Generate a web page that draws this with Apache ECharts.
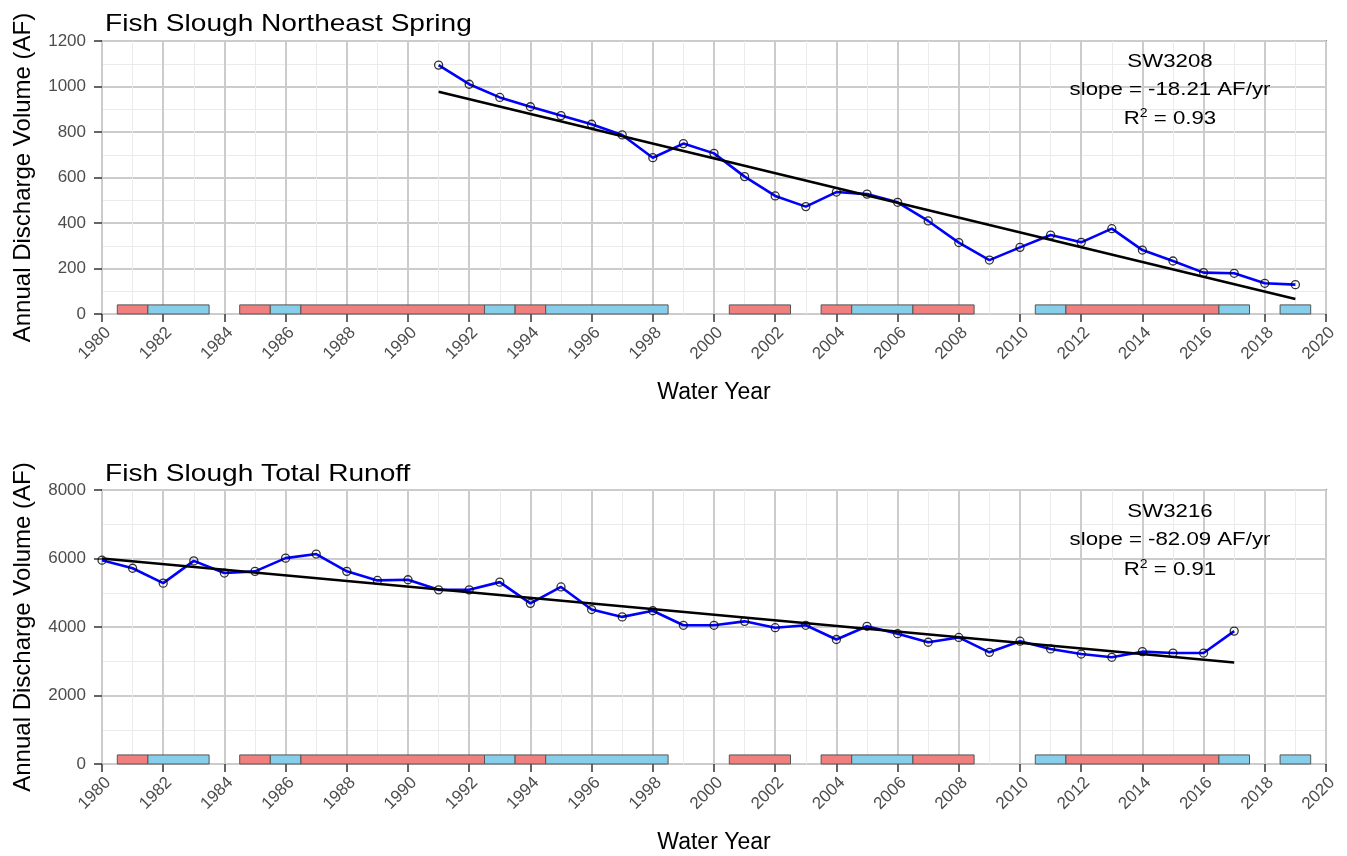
<!DOCTYPE html>
<html>
<head>
<meta charset="utf-8">
<script src="https://cdn.jsdelivr.net/npm/echarts@6/dist/echarts.min.js"></script>
<style>
html,body{margin:0;padding:0;background:#fff;}
#chart{width:1347px;height:856px;}
</style>
</head>
<body>
<div id="chart"></div>
<script>
// ---- data ----
const springYears = [1991,1992,1993,1994,1995,1996,1997,1998,1999,2000,2001,2002,2003,2004,2005,2006,2007,2008,2009,2010,2011,2012,2013,2014,2015,2016,2017,2018,2019];
const springVolume = [1094,1010,952,911,872,834,787,687,749,706,604,519,472,536,527,491,409,314,237,293,347,315,375,281,233,182,179,135,129];
const springTrendYears = [1991, 2019];
const springTrendValues = [977, 66];

const runoffYears = [1980,1981,1982,1983,1984,1985,1986,1987,1988,1989,1990,1991,1992,1993,1994,1995,1996,1997,1998,1999,2000,2001,2002,2003,2004,2005,2006,2007,2008,2009,2010,2011,2012,2013,2014,2015,2016,2017];
const runoffVolume = [5950,5715,5280,5930,5575,5625,6010,6130,5625,5360,5380,5085,5085,5310,4690,5170,4510,4295,4475,4050,4050,4165,3980,4050,3635,4020,3805,3555,3695,3260,3585,3360,3210,3115,3280,3240,3240,3880];
const runoffTrendYears = [1980, 2017];
const runoffTrendValues = [6000, 2962];

// wet/dry periods (first and last water year of each run)
const periodStart = [1981,1982,1985,1986,1987,1993,1994,1995,2001,2004,2005,2007,2011,2012,2017,2019];
const periodEnd   = [1981,1983,1985,1986,1992,1993,1994,1998,2002,2004,2006,2008,2011,2016,2017,2019];
const periodType  = ['dry','wet','dry','wet','dry','wet','dry','wet','dry','dry','wet','dry','wet','dry','wet','wet'];

const titles = ['Fish Slough Northeast Spring', 'Fish Slough Total Runoff'];
const stations = ['SW3208', 'SW3216'];
const slopes = ['slope = -18.21 AF/yr', 'slope = -82.09 AF/yr'];
const r2 = ['0.93', '0.91'];
const xTicks = {min: 1980, max: 2020, step: 2};
const yTicks = [{min: 0, max: 1200, step: 200}, {min: 0, max: 8000, step: 2000}];

// ---- styling ----
const FONT = '"Liberation Sans", Arial, sans-serif';
const RED = '#F08080', BLUE = '#87CEEB';
const pairs = (xs, ys) => xs.map((x, i) => [x, ys[i]]);
const periodData = periodStart.map((s, i) => [s, periodEnd[i]]);

function periodRender(barTop) {
  return function (params, api) {
    const a = api.coord([api.value(0) - 0.5, 0]);
    const b = api.coord([api.value(1) + 0.5, barTop]);
    return {
      type: 'rect',
      shape: {x: a[0], y: b[1], width: b[0] - a[0], height: a[1] - b[1]},
      style: {fill: periodType[params.dataIndex] === 'dry' ? RED : BLUE, stroke: '#555', lineWidth: 1}
    };
  };
}

const grids = [
  {left: 102, top: 41, width: 1224, height: 273},
  {left: 102, top: 490, width: 1224, height: 274}
];

function xAxis(i) {
  return {
    type: 'value', gridIndex: i, min: xTicks.min, max: xTicks.max, interval: xTicks.step,
    name: 'Water Year', nameLocation: 'middle', nameGap: 67,
    nameTextStyle: {fontFamily: FONT, fontSize: 23, color: '#000'},
    axisLine: {show: false},
    axisTick: {show: true, length: 8, lineStyle: {color: '#333', width: 1.5}},
    axisLabel: {rotate: 45, margin: 10, align: 'right', verticalAlign: 'top',
                fontFamily: FONT, fontSize: 17, color: '#4d4d4d', formatter: v => String(v)},
    splitLine: {show: true, lineStyle: {color: '#cccccc', width: 2}},
    minorTick: {show: false, splitNumber: 2},
    minorSplitLine: {show: true, lineStyle: {color: '#ebebeb', width: 1}}
  };
}
function yAxis(i) {
  return {
    type: 'value', gridIndex: i, min: yTicks[i].min, max: yTicks[i].max, interval: yTicks[i].step,
    name: 'Annual Discharge Volume (AF)', nameLocation: 'middle', nameGap: 67,
    nameTextStyle: {fontFamily: FONT, fontSize: 24, color: '#000'},
    axisLine: {show: false},
    axisTick: {show: true, length: 8, lineStyle: {color: '#333', width: 1.5}},
    axisLabel: {margin: 16, fontFamily: FONT, fontSize: 17, color: '#4d4d4d', formatter: v => String(v)},
    splitLine: {show: true, lineStyle: {color: '#cccccc', width: 2}},
    minorTick: {show: false, splitNumber: 2},
    minorSplitLine: {show: true, lineStyle: {color: '#ebebeb', width: 1}}
  };
}

function seriesFor(i, years, vals, tY, tV, barTop) {
  return [
    {type: 'custom', xAxisIndex: i, yAxisIndex: i, data: periodData, encode: {x: [0, 1]},
     renderItem: periodRender(barTop), z: 1, silent: true},
    {type: 'line', xAxisIndex: i, yAxisIndex: i, data: pairs(years, vals), symbol: 'none',
     lineStyle: {color: '#0000ff', width: 2.6}, z: 2},
    {type: 'line', xAxisIndex: i, yAxisIndex: i, data: pairs(tY, tV), symbol: 'none',
     lineStyle: {color: '#000', width: 2.6}, z: 3},
    {type: 'scatter', xAxisIndex: i, yAxisIndex: i, data: pairs(years, vals), symbol: 'circle', symbolSize: 8,
     itemStyle: {color: 'rgba(0,0,0,0)', borderColor: '#000', borderWidth: 1.3}, z: 4}
  ];
}

const SX = 1.17;
function txt(x, y, text, size, align) {
  return {
    type: 'text', x: x, y: y, scaleX: SX, z: 100,
    style: {text: text, fontFamily: FONT, fontSize: size, fill: '#000', align: align, verticalAlign: 'middle'}
  };
}
function r2Text(x, y, val) {
  return {
    type: 'text', x: x, y: y, scaleX: SX, z: 100,
    style: {
      text: '{r|R}{s|2}{r| = ' + val + '}', align: 'center', verticalAlign: 'middle',
      rich: {
        r: {fontFamily: FONT, fontSize: 19, fill: '#000', lineHeight: 22},
        s: {fontFamily: FONT, fontSize: 12, fill: '#000', verticalAlign: 'top', lineHeight: 10}
      }
    }
  };
}

const graphics = [
  txt(105, 24.5, titles[0], 24, 'left'),
  txt(105, 474.5, titles[1], 24, 'left'),
  txt(1170, 62, stations[0], 19, 'center'),
  txt(1170, 90, slopes[0], 19, 'center'),
  r2Text(1170, 119, r2[0]),
  txt(1170, 511.5, stations[1], 19, 'center'),
  txt(1170, 540, slopes[1], 19, 'center'),
  r2Text(1170, 570, r2[1])
];

const chart = echarts.init(document.getElementById('chart'), null, {renderer: 'canvas'});
chart.setOption({
  animation: false,
  backgroundColor: '#fff',
  grid: grids.map(g => Object.assign({show: true, borderColor: '#333', borderWidth: 1.5, backgroundColor: '#fff'}, g)),
  xAxis: [xAxis(0), xAxis(1)],
  yAxis: [yAxis(0), yAxis(1)],
  series: [].concat(
    seriesFor(0, springYears, springVolume, springTrendYears, springTrendValues, 40),
    seriesFor(1, runoffYears, runoffVolume, runoffTrendYears, runoffTrendValues, 265)
  ),
  graphic: graphics
});
</script>
</body>
</html>
